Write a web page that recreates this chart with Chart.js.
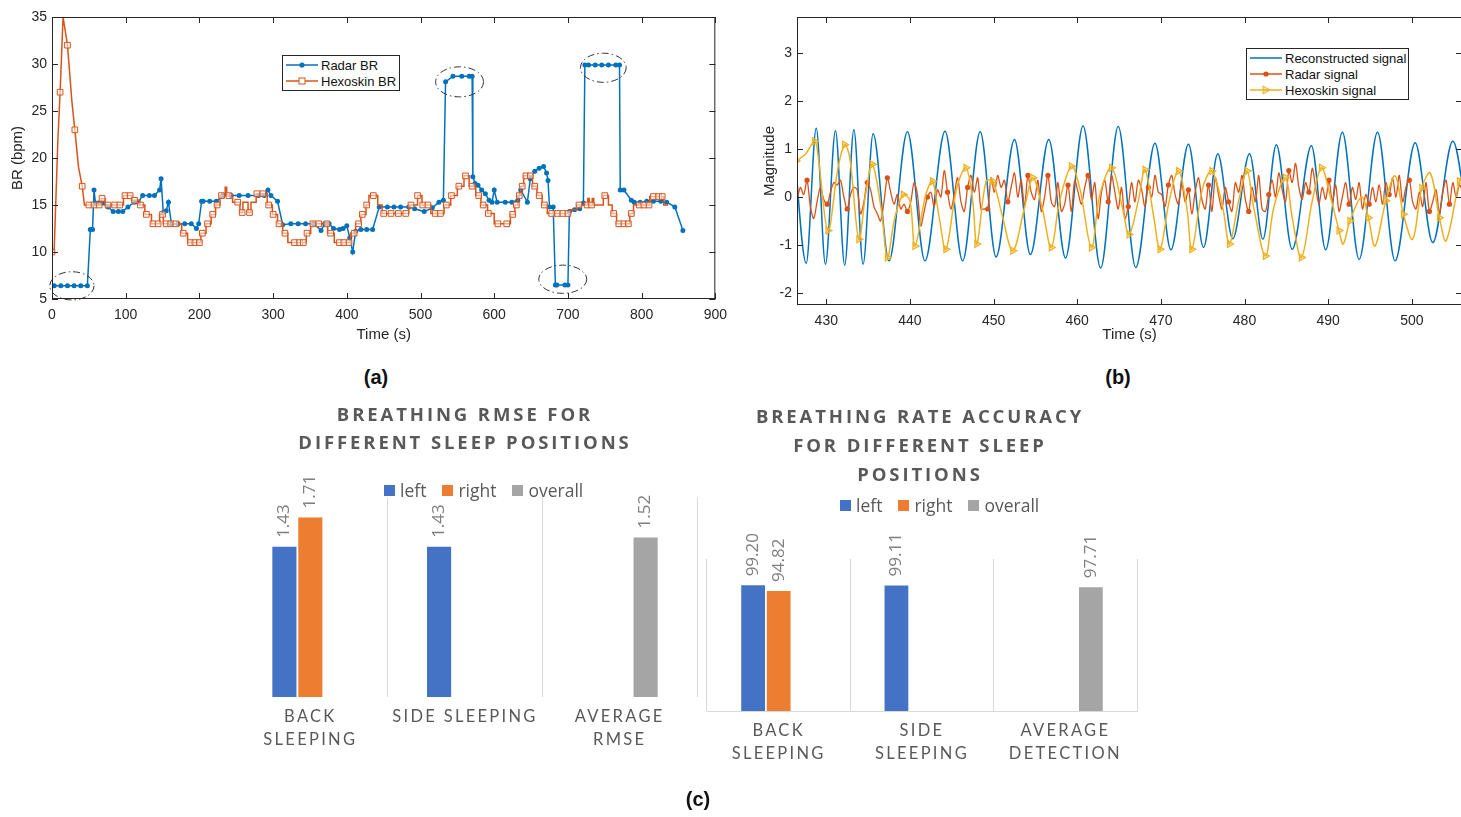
<!DOCTYPE html>
<html>
<head>
<meta charset="utf-8">
<script src="https://cdn.jsdelivr.net/npm/chart.js@4.4.1/dist/chart.umd.min.js"></script>
<style>
html, body { margin: 0; padding: 0; background: #fff; overflow: hidden; width: 1461px; height: 817px; }
body { position: relative; font-family: "Liberation Sans", Arial, sans-serif; }
canvas { position: absolute; }
.leg { position: absolute; border: 1px solid #262626; background: #fff; font-size: 13px; color: #111; box-sizing: border-box; padding: 1px 0 0 3px; }
.leg div { display: flex; align-items: center; height: 16px; }
.leg svg { margin-right: 3px; }
.title { position: absolute; text-align: center; font-family: "Open Sans", sans-serif; font-weight: 700; color: #595959; letter-spacing: 2.9px; font-size: 18.5px; line-height: 28px; }
.xl { position: absolute; display: flex; align-items: center; font-family: "Open Sans", sans-serif; font-size: 17.5px; color: #595959; height: 24px; }
.xl i { display: inline-block; width: 11px; height: 11px; margin-right: 5px; }
.xl span { margin-right: 16px; }
.panel { position: absolute; font-weight: bold; font-size: 20px; transform: translateX(-50%); color: #111; }
</style>
</head>
<body>
<canvas id="chartA" width="735" height="350" style="left:0;top:0"></canvas>
<canvas id="chartB" width="740" height="350" style="left:740px;top:0"></canvas>
<canvas id="chartC1" width="485" height="330" style="left:225px;top:440px"></canvas>
<canvas id="chartC2" width="450" height="320" style="left:700px;top:480px"></canvas>

<div class="leg" style="left:282px;top:55px;width:118px;height:36px">
  <div><svg width="32" height="10"><line x1="0" y1="5" x2="32" y2="5" stroke="#0072BD" stroke-width="1.5"/><circle cx="16" cy="5" r="2.6" fill="#0072BD"/></svg>Radar BR</div>
  <div><svg width="32" height="10"><line x1="0" y1="5" x2="32" y2="5" stroke="#D95319" stroke-width="1.5"/><rect x="13" y="2" width="6" height="6" fill="#fff" stroke="#D95319"/></svg>Hexoskin BR</div>
</div>
<div class="leg" style="left:1246px;top:48px;width:163px;height:52px">
  <div><svg width="32" height="10"><line x1="0" y1="5" x2="32" y2="5" stroke="#0072BD" stroke-width="1.5"/></svg>Reconstructed signal</div>
  <div><svg width="32" height="10"><line x1="0" y1="5" x2="32" y2="5" stroke="#D95319" stroke-width="1.5"/><circle cx="16" cy="5" r="2.6" fill="#D95319"/></svg>Radar signal</div>
  <div><svg width="32" height="10"><line x1="0" y1="5" x2="32" y2="5" stroke="#EDB120" stroke-width="1.5"/><polygon points="13,1 20,5 13,9" fill="rgba(237,177,32,0.4)" stroke="#EDB120"/></svg>Hexoskin signal</div>
</div>

<div class="title" style="left:265px;width:400px;top:400px">BREATHING RMSE FOR<br>DIFFERENT SLEEP POSITIONS</div>
<div class="title" style="left:720px;width:400px;top:401px;line-height:29px">BREATHING RATE ACCURACY<br>FOR DIFFERENT SLEEP<br>POSITIONS</div>
<div class="xl" style="left:384px;top:478px"><i style="background:#4472C4"></i><span>left</span><i style="background:#ED7D31"></i><span>right</span><i style="background:#A5A5A5"></i><span>overall</span></div>
<div class="xl" style="left:840px;top:493px"><i style="background:#4472C4"></i><span>left</span><i style="background:#ED7D31"></i><span>right</span><i style="background:#A5A5A5"></i><span>overall</span></div>

<div class="panel" style="left:376px;top:366px">(a)</div>
<div class="panel" style="left:1118px;top:366px">(b)</div>
<div class="panel" style="left:698px;top:788px">(c)</div>

<script>
// ---- (a) breathing rate over time ----
const radarT = [3,12,21,30,39,48,52,55,57,59,63,70,76,83,90,96,103,112,117,123,132,139,146,148,151,155,158,162,171,180,189,196,199,203,205,214,223,232,243,254,266,280,288,293,297,306,313,324,334,344,355,365,370,376,382,390,395,400,404,408,412,419,427,435,444,455,464,473,484,492,505,516,525,531,534,544,556,566,570,571,574,578,583,588,593,597,600,604,615,624,632,636,645,649,655,661,667,671,673,675,680,683,685,696,700,702,709,716,721,723,728,737,746,755,765,770,771,776,786,790,798,807,816,826,834,845,856];
const radarBR = [6.4,6.4,6.4,6.4,6.4,6.4,12.4,12.4,16.6,15.2,15.2,15.2,14.8,14.3,14.3,14.3,14.8,15.3,15.3,16,16,16,16.6,17.8,14.2,14.4,15.3,13,13,13,13,12.5,13,15.4,15.4,15.4,15.4,16,16,16,16,16,16,16.6,16,15.4,12.9,13,13,13,13,12.3,13,13,12.5,12.4,12.5,12.8,11.5,10,12.2,12.4,12.4,12.4,14.8,14.8,14.8,14.8,14.8,14.6,14.3,14.7,15.3,15.5,28.1,28.7,28.7,28.7,28.7,18,17.3,17.1,16.6,16.2,15.5,15.3,16.6,15.3,15.3,15.3,15.5,16.6,15.3,17.8,18.6,18.9,19.1,18.4,17.6,14.8,14.8,6.5,6.5,6.5,6.5,14.3,14.5,14.6,15.2,29.9,29.9,29.9,29.9,29.9,29.9,29.9,16.6,16.6,15.5,15.3,15.3,15.4,15.4,15.4,15.3,14.8,12.3];

const hexEarlyT = [0,3,8,11,15,21,27,31,36,41,44,50];
const hexEarlyV = [10,10.3,22,27,35,32,26,23,19,17,15,15];
const hexStepT = [50,67,72,97,108,119,126,135,146,151,176,184,202,209,216,222,228,235,237,245,255,259,266,270,277,292,299,306,313,320,345,351,374,383,405,412,419,426,430,442,448,484,496,502,514,532,541,550,559,566,575,582,591,600,622,628,632,636,640,652,658,665,672,703,712,727,729,733,735,748,755,760,766,784,789,811,830,836];
const hexStepV = [15,15.7,15,16,15.5,15,14,13,14,13,12,11,12,13,14,15,16,16.9,16,15.3,14.2,15.3,14.2,15.3,16.2,15,14,13,12,11,12,13,12,11,12,13,14,15,16,15,14.1,15,16,15,14.1,15,16,17,18.1,17,16,15,14.1,13,14,15,16,17,18.1,17,16,15,14.1,14.5,15,15.7,15,15.7,15,16,15,14.1,13,14.1,15,15.9,15,15];
const hexMarkT = [0,11,21,31,41,50,57,64,68,76,85,92,99,106,112,120,128,137,144,150,155,161,168,178,188,194,200,204,211,218,224,230,240,252,258,268,278,286,294,300,308,316,329,336,341,346,354,362,373,378,390,396,403,410,416,421,427,436,450,460,470,480,487,496,503,510,520,527,535,542,552,561,570,579,585,592,605,617,625,630,634,638,643,649,655,661,668,678,686,693,700,715,726,732,750,762,769,776,782,786,797,803,810,816,823,828];
const hexMarkV = [10,27,32,23,17,15,15,15,15.7,15,15,15,16,16,15.5,15,14,13,13,14,13,13,13,12,11,11,11,12,13,14,15,16,16,15.3,14.2,14.2,16.2,16.2,15,14,13,12,11,11,11,12,13,13,13,12,11,11,11,12,13,14,15,16,14.1,14.1,14.1,14.1,15,16,15,15,14.1,14.1,15,16,17,18.1,17,16,15,14.1,13,13,14,15,16,17,18.1,18.1,17,16,15,14.1,14.1,14.1,14.1,15,15,15,16,14.1,13,13,13,14.1,15,15,15,15.9,15.9,15.9];
const aTicksX = [0,100,200,300,400,500,600,700,800,900];
const aTicksY = [5,10,15,20,25,30,35];

// dash-dot rings drawn round the outlier stretches (centre and half-size in data units)
const circled = [
    { t: 27,  v: 6.4,  dt: 30,   dv: 1.5 },
    { t: 553, v: 28.1, dt: 32.5, dv: 1.6 },
    { t: 748, v: 29.6, dt: 31,   dv: 1.55 },
    { t: 693, v: 7.1,  dt: 32.5, dv: 1.5 }
];

// ---- (b) signals ----
const recT = [426.0,427.6,428.8,429.9,431.1,432.2,433.3,434.4,435.6,437.5,439.7,441.8,444.2,446.3,448.4,450.3,452.5,454.4,456.6,458.6,460.7,462.8,464.9,467.0,469.3,471.2,473.3,475.1,476.8,478.6,480.6,482.2,483.8,485.7,488.0,489.7,491.7,493.7,495.9,498.0,500.4,502.5,504.9,507.0];
const recV = [1.4,-1.38,1.43,-1.4,1.38,-1.42,1.4,-1.4,1.32,-1.33,1.36,-1.33,1.37,-1.33,1.36,-1.25,1.2,-1.2,1.2,-1.27,1.48,-1.48,1.47,-1.47,1.12,-1.1,1.1,-1.05,0.9,-0.87,0.9,-0.88,1.09,-1.09,1.07,-1.1,1.35,-1.3,1.35,-1.33,1.13,-0.95,1.16,-1.0];

const radarSigStart = 426.5, radarSigStep = 0.4;   // sampling grid
const radarSig = [
    -0.08,0.2,0.05,0.35,-0.2,-0.45,-0.1,0.2,-0.05,-0.15,
    0.1,0.3,0.25,0.35,0,-0.25,0.05,0.2,0.15,-0.35,
    -0.1,0.3,0.15,-0.2,-0.35,-0.5,-0.1,0.4,0.1,-0.15,
    0.05,-0.25,-0.15,-0.3,-0.1,0.3,0.05,-0.6,-0.3,0,
    0.1,-0.2,0.15,0,0.55,0.1,-0.25,0.05,0.4,-0.1,
    -0.3,0.2,0.45,0.1,0.4,-0.25,-0.25,-0.25,0.4,0.1,
    0.45,0.2,0.35,-0.1,0.2,0.5,0,0.35,-0.2,0.45,
    0.1,-0.05,0.35,-0.3,0,0.45,-0.1,-0.2,0.3,-0.3,
    -0.15,0.25,-0.3,0.35,0.1,-0.15,0.2,0.45,-0.05,0.3,
    -0.45,0.1,0.35,-0.1,0.45,0.1,-0.25,0.2,-0.45,-0.2,
    0.3,-0.1,0.35,0.15,-0.2,0.2,0,0.45,0.1,0.05,
    -0.2,0.25,0.45,0.05,-0.15,0.3,-0.1,0.15,-0.35,0.1,
    0.4,-0.05,-0.25,0.25,-0.3,0.4,0.05,-0.25,0.2,-0.1,
    -0.3,0.3,0.1,0.45,-0.05,-0.3,0.2,-0.1,0.45,-0.25,
    -0.3,0.05,0.35,0,0.5,0.15,-0.1,0.55,0.3,0.7,
    0.2,-0.05,0.3,0.1,0.6,0.2,-0.15,0.2,-0.05,0.35,
    -0.1,0.25,-0.3,0,0.3,-0.15,0.2,-0.05,0.3,-0.25,
    0.05,-0.15,0.2,-0.1,0.25,-0.15,0.3,0.05,0.4,0,
    0.45,-0.1,0.2,0.35,-0.1,-0.25,0.1,-0.2,0.3,-0.3,
    -0.1,0.15,-0.35,0.1,0.35,-0.15,0.3,0,0.25,0.1
];

const hexSigT = [426.4,427.5,428.6,429.0,430.2,431.4,432.2,432.8,433.9,434.7,435.5,436.6,437.3,438.2,439.2,440.0,440.6,441.9,442.7,443.5,444.3,445.6,446.7,447.5,448.0,449.1,449.9,451.0,452.3,453.7,454.7,455.8,456.9,457.9,459.3,460.3,461.7,462.7,464.1,465.4,466.2,467.3,468.1,469.1,469.9,471.0,472.1,473.1,473.7,475.0,476.1,477.4,478.2,479.3,480.3,481.1,482.5,483.5,484.9,485.7,486.8,488.1,489.2,490.2,491.3,491.8,492.6,494.0,494.8,495.6,496.9,498.0,499.0,500.1,501.2,502.2,503.3,504.1,505.7,506.5];
const hexSigV = [0.75,0.89,1.16,0.89,-0.7,0.6,1.09,0.82,-0.88,0.05,0.68,-0.29,-1.26,-0.43,0.05,-0.08,-1.02,0.05,0.33,-0.43,-1.09,0.19,0.61,-0.08,-0.98,0.33,0.33,-0.36,-1.12,-0.22,0.4,-0.22,-1.05,-0.08,0.64,0.19,-1.05,0.05,0.61,-0.22,-0.78,-0.08,0.57,-0.36,-1.09,-0.08,0.54,-0.22,-1.09,0.19,0.54,-0.22,-0.98,-0.08,0.54,-0.22,-1.23,-0.22,0.4,-0.43,-1.26,-0.08,0.61,0.05,-0.7,-0.98,-0.5,0,-0.43,-1.02,-0.08,0.44,-0.36,-0.88,0.19,0.5,-0.43,-0.91,0.33,0.6];
const bTicksX = [430,440,450,460,470,480,490,500];
const bTicksY = [-2,-1,0,1,2,3];

// ---- (c) bar charts ----
const rmseCats = [['BACK', 'SLEEPING'], 'SIDE SLEEPING', ['AVERAGE', 'RMSE']];
const rmseLeft = [1.43, 1.43, null];
const rmseRight = [1.71, null, null];
const rmseOverall = [null, null, 1.52];

const accCats = [['BACK', 'SLEEPING'], ['SIDE', 'SLEEPING'], ['AVERAGE', 'DETECTION']];
const accLeft = [99.20, 99.11, null];
const accRight = [94.82, null, null];
const accOverall = [null, null, 97.71];

// ---------------------------------------------------------------
const BLUE = '#0072BD', ORANGE = '#D95319', YELLOW = '#EDB120';
const AXIS = '#262626';
Chart.defaults.font.family = '"Liberation Sans", Arial, sans-serif';
Chart.defaults.color = AXIS;

const pairs = (xs, ys) => xs.map((x, i) => ({ x, y: ys[i] }));
const fixedTicks = list => scale => { scale.ticks = list.map(value => ({ value })); };

// MATLAB-like closed box with inward ticks
const matlabBox = {
    id: 'matlabBox',
    afterDraw(chart) {
        const { ctx, chartArea: a, scales: { x, y } } = chart;
        const L = 6;
        ctx.save();
        ctx.strokeStyle = AXIS;
        ctx.lineWidth = 1;
        ctx.strokeRect(a.left + 0.5, a.top + 0.5, a.right - a.left - 1, a.bottom - a.top - 1);
        ctx.beginPath();
        x.ticks.forEach(t => {
            const px = Math.round(x.getPixelForValue(t.value)) + 0.5;
            ctx.moveTo(px, a.bottom); ctx.lineTo(px, a.bottom - L);
            ctx.moveTo(px, a.top); ctx.lineTo(px, a.top + L);
        });
        y.ticks.forEach(t => {
            const py = Math.round(y.getPixelForValue(t.value)) + 0.5;
            ctx.moveTo(a.left, py); ctx.lineTo(a.left + L, py);
            ctx.moveTo(a.right, py); ctx.lineTo(a.right - L, py);
        });
        ctx.stroke();
        ctx.restore();
    }
};

const rings = {
    id: 'rings',
    afterDatasetsDraw(chart, args, opts) {
        if (!opts.items) return;
        const { ctx, scales: { x, y } } = chart;
        ctx.save();
        ctx.strokeStyle = '#333';
        ctx.lineWidth = 1;
        ctx.setLineDash([7, 3, 1.5, 3]);
        opts.items.forEach(e => {
            const cx = x.getPixelForValue(e.t), cy = y.getPixelForValue(e.v);
            const rx = Math.abs(x.getPixelForValue(e.t + e.dt) - cx);
            const ry = Math.abs(y.getPixelForValue(e.v + e.dv) - cy);
            ctx.beginPath();
            ctx.ellipse(cx, cy, rx, ry, 0, 0, Math.PI * 2);
            ctx.stroke();
        });
        ctx.restore();
    }
};

const tickFont = { size: 14 };
const matlabX = (min, max, ticks, height) => ({
    type: 'linear', min, max,
    afterBuildTicks: fixedTicks(ticks),
    grid: { display: false, drawTicks: false },
    border: { display: false },
    ticks: { font: tickFont, color: AXIS, padding: 8, maxRotation: 0 },
    title: { display: true, text: 'Time (s)', font: { size: 15 }, color: AXIS, padding: { top: 0, bottom: 6 } },
    afterFit: s => { s.height = height; }
});
const matlabY = (min, max, ticks, label, titleGap, width) => ({
    min, max,
    afterBuildTicks: fixedTicks(ticks),
    grid: { display: false, drawTicks: false },
    border: { display: false },
    ticks: { font: tickFont, color: AXIS, padding: 5 },
    title: { display: true, text: label, font: { size: 15 }, color: AXIS, padding: { top: titleGap, bottom: 0 } },
    afterFit: s => { s.width = width; }
});

new Chart(document.getElementById('chartA'), {
    type: 'line',
    data: {
        datasets: [
            { label: 'Radar BR', data: pairs(radarT, radarBR), borderColor: BLUE, backgroundColor: BLUE,
              borderWidth: 1.5, pointRadius: 2.5, pointBorderWidth: 0, tension: 0, order: 3 },
            { label: 'Hexoskin BR', data: pairs(hexEarlyT, hexEarlyV), borderColor: ORANGE,
              borderWidth: 1.5, pointRadius: 0, tension: 0, order: 2 },
            { label: 'Hexoskin BR steps', data: pairs(hexStepT, hexStepV), borderColor: ORANGE,
              borderWidth: 1.5, pointRadius: 0, stepped: 'before', order: 2 },
            { label: 'Hexoskin BR samples', data: pairs(hexMarkT, hexMarkV), showLine: false,
              pointStyle: 'rect', pointRadius: 4, pointBorderColor: ORANGE, pointBorderWidth: 1,
              pointBackgroundColor: 'rgba(255,255,255,0.55)', order: 1 }
        ]
    },
    options: {
        responsive: false,
        animation: false,
        devicePixelRatio: 1,
        layout: { padding: { left: 0, top: 17, right: 18, bottom: 0 } },
        plugins: { legend: { display: false }, tooltip: { enabled: false }, rings: { items: circled } },
        scales: {
            x: matlabX(0, 900, aTicksX, 51),
            y: matlabY(5, 35, aTicksY, 'BR (bpm)', 9, 52)
        }
    },
    plugins: [matlabBox, rings]
});

new Chart(document.getElementById('chartB'), {
    type: 'line',
    data: {
        datasets: [
            { label: 'Reconstructed signal', data: pairs(recT, recV), borderColor: BLUE,
              borderWidth: 1.5, pointRadius: 0, cubicInterpolationMode: 'monotone', order: 3 },
            { label: 'Radar signal', data: radarSig.map((v, i) => ({ x: radarSigStart + i * radarSigStep, y: v })),
              borderColor: ORANGE, backgroundColor: ORANGE, borderWidth: 1.3, tension: 0.3,
              pointRadius: c => (c.index % 6 === 3 ? 2.6 : 0), pointBorderWidth: 0, order: 2 },
            { label: 'Hexoskin signal', data: pairs(hexSigT, hexSigV), borderColor: YELLOW,
              borderWidth: 1.5, tension: 0.35, pointStyle: 'triangle', rotation: 90,
              pointRadius: c => (c.index % 2 === 0 ? 4 : 0), pointBorderColor: YELLOW, pointBorderWidth: 1.2,
              pointBackgroundColor: 'rgba(237,177,32,0.35)', order: 1 }
        ]
    },
    options: {
        responsive: false,
        animation: false,
        devicePixelRatio: 1,
        layout: { padding: { left: 0, top: 17, right: 18, bottom: 0 } },
        plugins: { legend: { display: false }, tooltip: { enabled: false } },
        scales: {
            x: matlabX(426.5, 506, bTicksX, 45),
            y: matlabY(-2.25, 3.75, bTicksY, 'Magnitude', 21, 57)
        }
    },
    plugins: [matlabBox]
});

// ---- Excel-style bar charts ----
const spacedText = {
    id: 'spacedText',
    beforeDraw(chart) { chart.ctx.letterSpacing = '2.3px'; },
    afterDraw(chart) { chart.ctx.letterSpacing = '0px'; }
};

const barValues = {
    id: 'barValues',
    afterDatasetsDraw(chart) {
        const ctx = chart.ctx;
        ctx.save();
        ctx.letterSpacing = '0px';
        ctx.fillStyle = '#7f7f7f';
        ctx.font = '17px "Open Sans", sans-serif';
        ctx.textAlign = 'left';
        ctx.textBaseline = 'middle';
        chart.data.datasets.forEach((ds, i) => {
            chart.getDatasetMeta(i).data.forEach((bar, j) => {
                if (ds.data[j] == null) return;
                ctx.save();
                ctx.translate(bar.x, bar.y - 9);
                ctx.rotate(-Math.PI / 2);
                ctx.fillText(ds.data[j].toFixed(2), 0, 0);
                ctx.restore();
            });
        });
        ctx.restore();
    }
};

function barChart(id, cats, left, right, overall, yMax, cp, pad, axisH, hideFirstGrid, baseline) {
    return new Chart(document.getElementById(id), {
        type: 'bar',
        data: {
            labels: cats,
            datasets: [
                { label: 'left', data: left, backgroundColor: '#4472C4' },
                { label: 'right', data: right, backgroundColor: '#ED7D31' },
                { label: 'overall', data: overall, backgroundColor: '#A5A5A5' }
            ]
        },
        options: {
            responsive: false,
            animation: false,
            devicePixelRatio: 1,
            categoryPercentage: cp,
            barPercentage: 0.93,
            layout: { padding: pad },
            plugins: { legend: { display: false }, tooltip: { enabled: false } },
            scales: {
                x: {
                    grid: { offset: true, drawTicks: false, lineWidth: 1,
                            color: c => (hideFirstGrid && c.index === 0 ? 'rgba(0,0,0,0)' : '#d9d9d9') },
                    border: { display: baseline, color: '#d9d9d9' },
                    ticks: { font: { family: 'Lato, sans-serif', size: 16.5, lineHeight: 1.42 }, color: '#595959',
                             padding: 8, maxRotation: 0, autoSkip: false },
                    afterFit: s => { s.height = axisH; }
                },
                y: { display: false, min: 0, max: yMax }
            }
        },
        plugins: [spacedText, barValues]
    });
}

barChart('chartC1', rmseCats, rmseLeft, rmseRight, rmseOverall, 1.9, 0.503,
         { left: 8, right: 13, top: 57.5, bottom: 0 }, 73, true, false);
barChart('chartC2', accCats, accLeft, accRight, accOverall, 120, 0.535,
         { left: 7, right: 13, top: 79, bottom: 0 }, 89, false, true);
</script>
</body>
</html>
